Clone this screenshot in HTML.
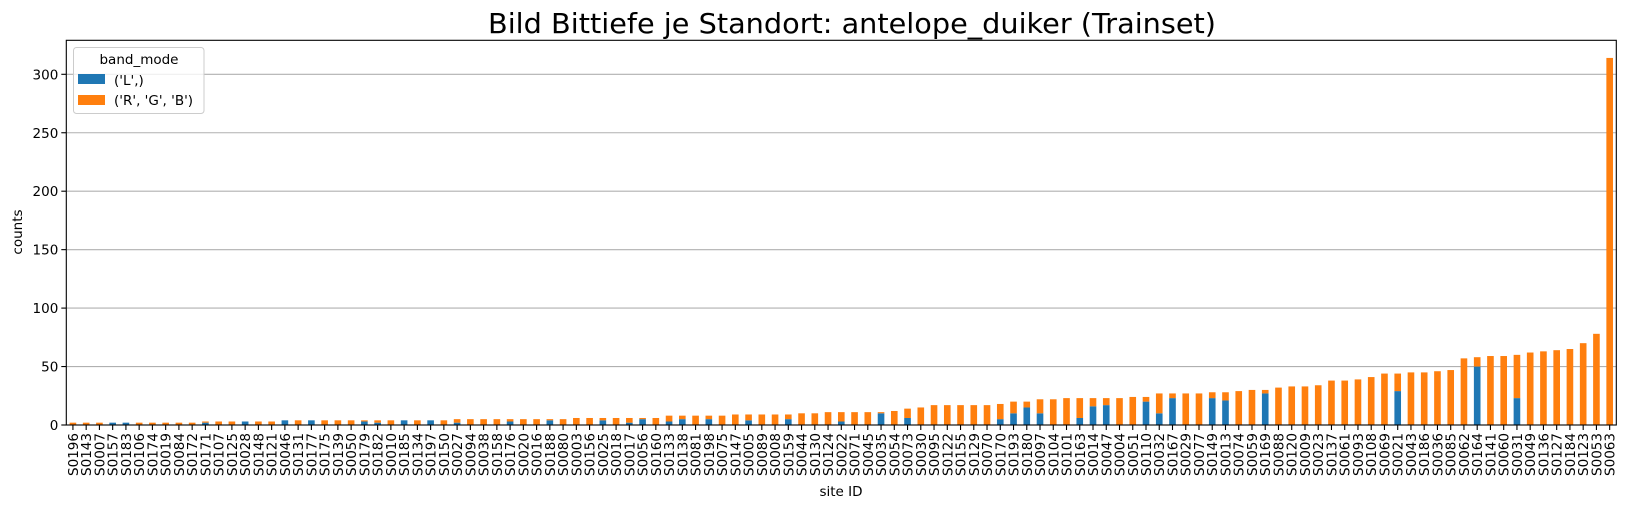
<!DOCTYPE html>
<html><head><meta charset="utf-8"><style>
html,body{margin:0;padding:0;background:#fff;}
svg{display:block;font-family:"DejaVu Sans","Liberation Sans",sans-serif;}
</style></head><body>
<svg id="chart" width="1626" height="508" xmlns="http://www.w3.org/2000/svg"></svg>
<script>
const sites = ["S0196","S0143","S0007","S0157","S0183","S0106","S0174","S0019","S0084","S0172","S0171","S0107","S0125","S0028","S0148","S0121","S0046","S0131","S0177","S0175","S0139","S0050","S0179","S0182","S0010","S0185","S0134","S0197","S0150","S0027","S0094","S0038","S0158","S0176","S0020","S0016","S0188","S0080","S0003","S0156","S0025","S0018","S0017","S0056","S0160","S0133","S0138","S0081","S0198","S0075","S0147","S0005","S0089","S0008","S0159","S0044","S0130","S0124","S0022","S0071","S0045","S0035","S0054","S0073","S0030","S0095","S0122","S0155","S0129","S0070","S0170","S0193","S0180","S0097","S0104","S0101","S0163","S0014","S0047","S0004","S0051","S0110","S0032","S0167","S0029","S0077","S0149","S0013","S0074","S0059","S0169","S0088","S0120","S0009","S0023","S0137","S0061","S0093","S0108","S0069","S0021","S0043","S0186","S0036","S0085","S0062","S0164","S0141","S0060","S0031","S0049","S0136","S0127","S0184","S0123","S0053","S0063"];
const totals = [2,2,2,2,2,2,2,2,2,2,3,3,3,3,3,3,4,4,4,4,4,4,4,4,4,4,4,4,4,5,5,5,5,5,5,5,5,5,6,6,6,6,6,6,6,8,8,8,8,8,9,9,9,9,9,10,10,11,11,11,11,11,12,14,15,17,17,17,17,17,18,20,20,22,22,23,23,23,23,23,24,24,27,27,27,27,28,28,29,30,30,32,33,33,34,38,38,39,41,44,44,45,45,46,47,57,58,59,59,60,62,63,64,65,70,78,314];
const lCounts = [0,0,0,2,2,0,0,0,0,0,2,0,0,3,0,0,4,0,4,0,0,0,3,2,0,4,0,4,0,2,0,0,0,3,0,0,4,0,0,0,4,0,2,5,0,3,5,0,5,0,0,4,0,0,5,0,0,0,3,0,0,10,0,6,0,0,0,0,0,0,5,10,15,10,0,0,6,16,17,0,0,20,10,23,0,0,23,21,0,0,27,0,0,0,0,0,0,0,0,0,29,0,0,0,0,0,50,0,0,23,0,0,0,0,0,0,0];
const rgbCounts = totals.map((t,i)=>t-lCounts[i]);
const yTicks = [0,50,100,150,200,250,300];

const NS="http://www.w3.org/2000/svg";
const svg=document.getElementById('chart');
const L=66.3,R=1616.3,T=40.3,B=425;
const yMax=(B-T)/((B-74.3)/300);
const slot=(R-L)/sites.length;
const xC=i=>L+slot*(i+0.5);
const yS=v=>B-v*(B-T)/yMax;
function mk(tag,attrs,parent){const e=document.createElementNS(NS,tag);for(const k in attrs)e.setAttribute(k,attrs[k]);(parent||svg).appendChild(e);return e;}

const grid=mk('g',{});


yTicks.forEach(v=>{
  const ln=mk('line',{x1:L,x2:R,y1:yS(v),y2:yS(v),stroke:'#b0b0b0','stroke-width':1.1},grid);
  
  
});
const bars=mk('g',{});


const bw=slot*0.5;
sites.forEach((s,i)=>{
  const x=xC(i)-bw/2;
  const b1=mk('rect',{x:x,y:yS(lCounts[i]),width:bw,height:B-yS(lCounts[i]),fill:'#1f77b4'},bars);
  
  
  const b2=mk('rect',{x:x,y:yS(lCounts[i]+rgbCounts[i]),width:bw,height:yS(lCounts[i])-yS(lCounts[i]+rgbCounts[i]),fill:'#ff7f0e'},bars);
  
  
});
const fr=mk('rect',{x:L,y:T,width:R-L,height:B-T,fill:'none',stroke:'#000','stroke-width':1.1});


const yax=mk('g',{});


yTicks.forEach(v=>{
  mk('line',{x1:L-5,x2:L,y1:yS(v),y2:yS(v),stroke:'#000','stroke-width':1.1},yax);
  const t=mk('text',{x:L-8,y:yS(v)+5,'text-anchor':'end','font-size':13.5,fill:'#000'},yax);
  t.textContent=v;
  
  
});
const xax=mk('g',{});


sites.forEach((s,i)=>{
  mk('line',{x1:xC(i),x2:xC(i),y1:B,y2:B+5,stroke:'#000','stroke-width':1.1},xax);
  const t=mk('text',{transform:`translate(${xC(i)+5},${B+8}) rotate(-90)`,'text-anchor':'end','font-size':13.5,fill:'#000'},xax);
  t.textContent=s;
  
  
});
</script>
<script>
(function(){
const svg=document.getElementById('chart');const NS="http://www.w3.org/2000/svg";
function mk(tag,attrs,parent){const e=document.createElementNS(NS,tag);for(const k in attrs)e.setAttribute(k,attrs[k]);(parent||svg).appendChild(e);return e;}
const title=mk('text',{x:488,y:33,'font-size':28,fill:'#000',textLength:728,lengthAdjust:'spacingAndGlyphs'});
title.textContent='Bild Bittiefe je Standort: antelope_duiker (Trainset)';


const yl=mk('text',{transform:'translate(22,232) rotate(-90)','text-anchor':'middle','font-size':13.5,fill:'#000'});
yl.textContent='counts';


const xl=mk('text',{x:841,y:496,'text-anchor':'middle','font-size':13.5,fill:'#000'});
xl.textContent='site ID';


const lg=mk('g',{});


mk('rect',{x:73.5,y:47.5,width:130.5,height:66,rx:3,fill:'#fff','fill-opacity':0.8,stroke:'#ccc'},lg);
const lt=mk('text',{x:139,y:64,'text-anchor':'middle','font-size':13.5,fill:'#000'},lg);
lt.textContent='band_mode';


const p1=mk('rect',{x:78,y:74,width:27,height:10,fill:'#1f77b4'},lg);


const t1=mk('text',{x:114,y:85,'font-size':13.5,fill:'#000'},lg);
t1.textContent="('L',)";


const p2=mk('rect',{x:78,y:95,width:27,height:10,fill:'#ff7f0e'},lg);


const t2=mk('text',{x:114,y:105,'font-size':13.5,fill:'#000'},lg);
t2.textContent="('R', 'G', 'B')";


})();
</script>
</body></html>
